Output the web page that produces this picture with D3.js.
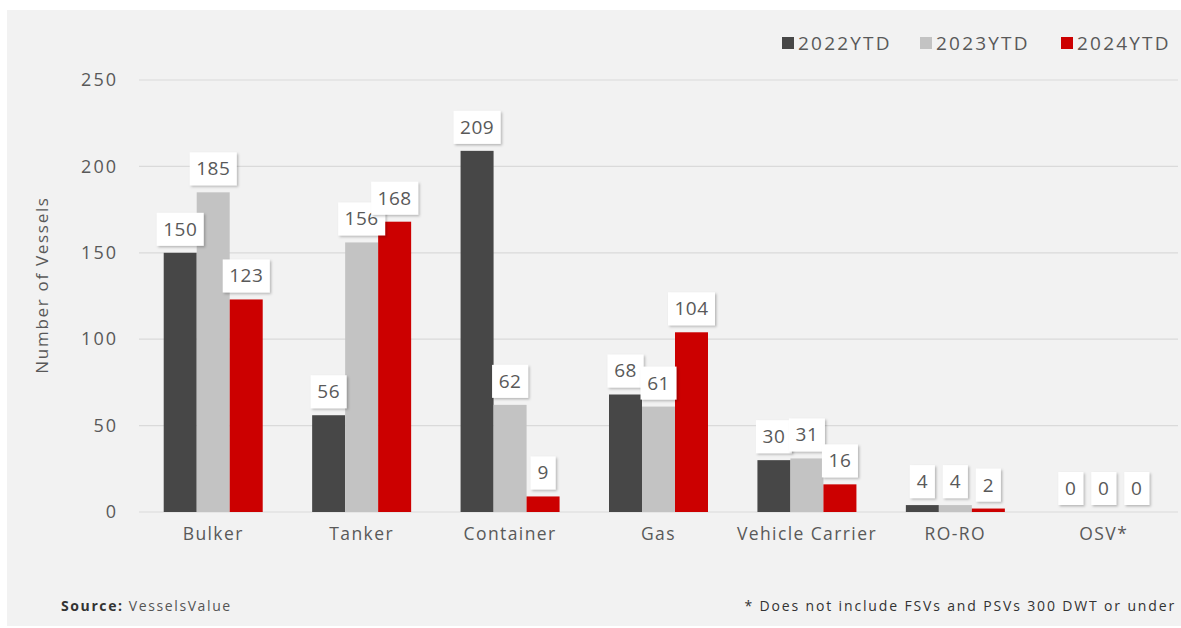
<!DOCTYPE html>
<html><head><meta charset="utf-8">
<script src="https://cdn.jsdelivr.net/npm/d3@7"></script>
<style>
body{margin:0;background:#fff;}
svg{display:block;font-family:"Open Sans",sans-serif;}
</style></head>
<body><svg id="chart" width="1181" height="628"></svg>
<script>
const categories = ["Bulker","Tanker","Container","Gas","Vehicle Carrier","RO-RO","OSV*"];
const seriesNames = ["2022YTD","2023YTD","2024YTD"];
const v2022 = [150,56,209,68,30,4,0];
const v2023 = [185,156,62,61,31,4,0];
const v2024 = [123,168,9,104,16,2,0];
const yTicks = [0,50,100,150,200,250];
const colors = ["#474747","#c3c3c3","#cc0000"];
const seriesVals = [v2022,v2023,v2024];

const svg = d3.select("#chart");
const W = 1181, H = 628;
const textCol = "#595959";

const defs = svg.append("defs");
const f = defs.append("filter").attr("id","sh").attr("x","-20%").attr("y","-20%").attr("width","150%").attr("height","150%");
f.append("feDropShadow").attr("dx",1.5).attr("dy",1.5).attr("stdDeviation",1.2).attr("flood-color","#000").attr("flood-opacity",0.25);

svg.append("rect").attr("x",7).attr("y",10).attr("width",W-7).attr("height",H-12).attr("fill","#f2f2f2");

const plot = {left:139, right:1178, top:80, bottom:512};
const x0 = d3.scaleBand().domain(categories).range([plot.left, plot.right]).paddingInner(0.333).paddingOuter(0.1665);
const x1 = d3.scaleBand().domain(seriesNames).range([0, x0.bandwidth()]);
const y = d3.scaleLinear().domain([0,250]).range([plot.bottom, plot.top]);

// gridlines
svg.append("g").selectAll("line").data(yTicks).join("line")
  .attr("x1",plot.left).attr("x2",plot.right)
  .attr("y1",d=>y(d)).attr("y2",d=>y(d))
  .attr("stroke","#dadada").attr("stroke-width",1.2);

// y axis
const yAxis = d3.axisLeft(y).tickValues(yTicks).tickSize(0).tickPadding(21);
const gy = svg.append("g").attr("transform",`translate(${plot.left},0)`).call(yAxis);
gy.select(".domain").remove();
gy.selectAll("text").attr("fill",textCol).style("font-size","18px").style("letter-spacing","2px").style("font-family","'Open Sans',sans-serif");

// x axis
const xAxis = d3.axisBottom(x0).tickSize(0).tickPadding(16);
const gx = svg.append("g").attr("transform",`translate(0,${plot.bottom})`).call(xAxis);
gx.select(".domain").remove();
gx.selectAll("text").attr("fill",textCol).style("font-size","17.5px").style("letter-spacing","1.4px").style("font-family","'Open Sans',sans-serif");

// y title
svg.append("text").attr("transform",`translate(48,${285}) rotate(-90)`)
  .attr("text-anchor","middle").attr("fill",textCol).style("font-size","17px").style("letter-spacing","1.7px").text("Number of Vessels");

// bars
const flat = [];
categories.forEach((c,i)=>seriesNames.forEach((s,j)=>flat.push({c,s,j,v:seriesVals[j][i]})));
svg.append("g").selectAll("rect").data(flat).join("rect")
  .attr("x",d=>x0(d.c)+x1(d.s)).attr("width",x1.bandwidth())
  .attr("y",d=>y(d.v)).attr("height",d=>y(0)-y(d.v))
  .attr("fill",d=>colors[d.j]);

// labels
const lg = svg.append("g");
flat.forEach(d=>{
  const cx = x0(d.c)+x1(d.s)+x1.bandwidth()/2;
  const txt = String(d.v);
  const bw = 14 + txt.length*11;
  const bh = 33;
  const by = y(d.v) - 7 - bh;
  const g = lg.append("g");
  g.append("rect").attr("x",cx-bw/2).attr("y",by).attr("width",bw).attr("height",bh)
    .attr("fill","#fff").attr("filter","url(#sh)");
  g.append("text").attr("x",cx).attr("y",by+bh/2+6.5).attr("text-anchor","middle")
    .attr("fill",textCol).style("font-size","19px").style("letter-spacing","0.5px").text(txt);
});

// legend
const legX = [782,920,1061];
const leg = svg.append("g");
seriesNames.forEach((s,j)=>{
  leg.append("rect").attr("x",legX[j]).attr("y",37).attr("width",12).attr("height",12).attr("fill",colors[j]);
  leg.append("text").attr("x",legX[j]+16).attr("y",50).attr("fill",textCol).style("font-size","19px").style("letter-spacing","2.2px").text(s);
});

// footer
const ft = svg.append("text").attr("x",61).attr("y",611).attr("fill","#333").style("font-size","14px").style("letter-spacing","1.6px");
ft.append("tspan").attr("font-weight","bold").text("Source:");
ft.append("tspan").attr("fill","#555").text(" VesselsValue");
svg.append("text").attr("x",1176).attr("y",611).attr("text-anchor","end").attr("fill","#333")
  .style("font-size","14px").style("letter-spacing","1.85px").text("* Does not include FSVs and PSVs 300 DWT or under");
</script></body></html>
